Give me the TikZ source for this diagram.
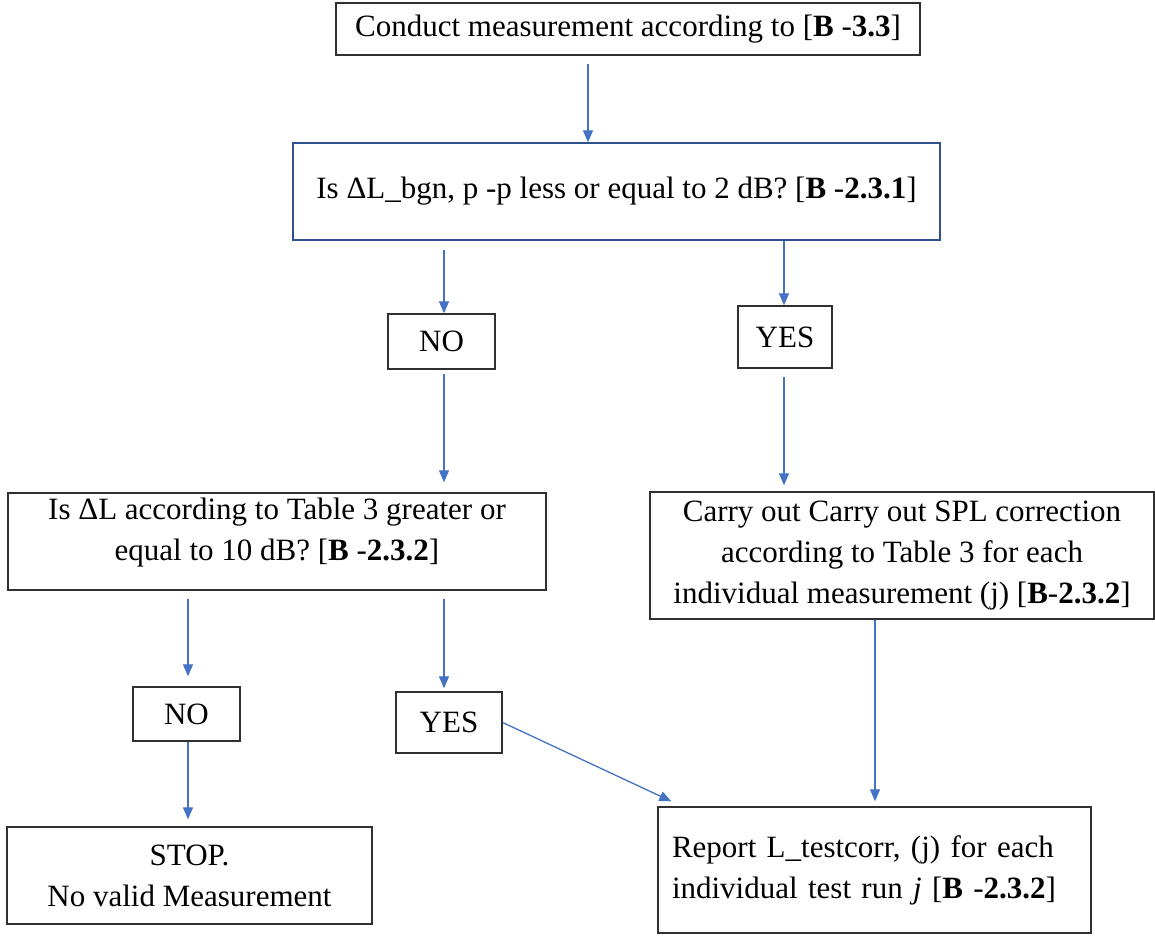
\documentclass[tikz,border=0pt]{standalone}
\usepackage{fontspec}
\setmainfont{Liberation Serif}
\usetikzlibrary{arrows.meta}
\definecolor{FlowBlue}{HTML}{4472C4}
\definecolor{EdgeGray}{HTML}{303030}
\definecolor{EdgeNavy}{HTML}{2F528F}

\begin{document}
\begin{tikzpicture}[x=1pt,y=-1pt,
    font=\fontsize{31}{41}\selectfont,
    box/.style={draw=EdgeGray,line width=1.4pt,align=center,inner sep=4pt},
    flow/.style={-{Triangle[length=12pt,width=10pt]},line width=1.3pt,FlowBlue}]
  \useasboundingbox (0,0) rectangle (1155,935);

  \node[box,minimum width=584pt,minimum height=52pt] (start) at (628,29)
    {Conduct measurement according to [\textbf{B} -\textbf{3.3}]};
  \node[box,draw=EdgeNavy,minimum width=647pt,minimum height=97pt] (check1) at (616.5,191.5)
    {Is ΔL\_bgn, p -p less or equal to 2 dB? [\textbf{B} -\textbf{2.3.1}]};
  \node[box,minimum width=107pt,minimum height=55pt] (no1) at (441.5,341.5) {NO};
  \node[box,minimum width=94pt,minimum height=62pt] (yes1) at (785,337) {YES};
  \node[box,minimum width=538pt,minimum height=97pt,text depth=24pt] (check2) at (277,541.5)
    {Is ΔL according to Table 3 greater or\\ equal to 10 dB? [\textbf{B} -\textbf{2.3.2}]};
  \node[box,minimum width=504pt,minimum height=127pt] (carry) at (902,555.5)
    {Carry out Carry out SPL correction\\ according to Table 3 for each\\
     individual measurement (j) [\textbf{B}-\textbf{2.3.2}]};
  \node[box,minimum width=107pt,minimum height=54pt] (no2) at (186.5,714) {NO};
  \node[box,minimum width=106pt,minimum height=61pt] (yes2) at (449,722.5) {YES};
  \node[box,minimum width=365pt,minimum height=97pt] (stop) at (189.5,875.5)
    {STOP.\\ No valid Measurement};
  \node[box,align=left,inner xsep=14pt,text width=405pt,minimum height=126pt] (report) at (874.5,870)
    {Report L\_testcorr, (j) for each\\ individual test run \textit{j} [\textbf{B} -\textbf{2.3.2}]};

  \coordinate (colmid) at (588,0);
  \coordinate (colno) at (444,0);
  \coordinate (colyes) at (784,0);
  \coordinate (colstop) at (188,0);
  \coordinate (colrep) at (875,0);

  \draw[flow,shorten <=8pt] (start.south -| colmid) -- (check1.north -| colmid);
  \draw[flow,shorten <=9pt] (check1.south -| colno) -- (no1.north -| colno);
  \draw[flow] (check1.south -| colyes) -- (yes1.north -| colyes);
  \draw[flow,shorten <=4pt,shorten >=10pt] (no1.south -| colno) -- (check2.north -| colno);
  \draw[flow,shorten <=8pt,shorten >=6pt] (yes1.south -| colyes) -- (carry.north -| colyes);
  \draw[flow,shorten <=8pt,shorten >=10pt] (check2.south -| colstop) -- (no2.north -| colstop);
  \draw[flow,shorten <=8pt,shorten >=3pt] (check2.south -| colno) -- (yes2.north -| colno);
  \draw[flow,shorten >=7pt] (no2.south -| colstop) -- (stop.north -| colstop);
  \draw[flow] (yes2.east) -- ([xshift=14pt,yshift=5pt]report.north west);
  \draw[flow,shorten >=5pt] (carry.south -| colrep) -- (report.north -| colrep);
\end{tikzpicture}
\end{document}
